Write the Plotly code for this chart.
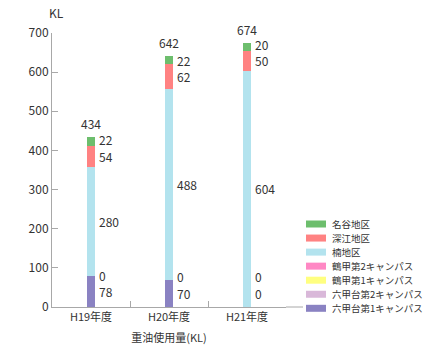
import plotly.graph_objects as go

# ---- data ----
categories = ["H19年度", "H20年度", "H21年度"]
series_names = ["六甲台第1キャンパス", "六甲台第2キャンパス", "鶴甲第1キャンパス",
                "鶴甲第2キャンパス", "楠地区", "深江地区", "名谷地区"]
series_colors = ["#8A82C2", "#D9B8D9", "#FFFF80", "#FF88C4", "#B3E3EE", "#FF8282", "#6DBE6D"]
rokko1 = [78, 70, 0]
rokko2 = [0, 0, 0]
tsuru1 = [0, 0, 0]
tsuru2 = [0, 0, 0]
kusunoki = [280, 488, 604]
fukae = [54, 62, 50]
myodani = [22, 22, 20]
series_values = [rokko1, rokko2, tsuru1, tsuru2, kusunoki, fukae, myodani]
totals = [434, 642, 674]
y_ticks = [0, 100, 200, 300, 400, 500, 600, 700]

FONT = "Noto Sans CJK JP, Noto Sans, sans-serif"
TXT = "#333333"
AX = "#a8a8a8"

fig = go.Figure()
for name, color, vals in zip(series_names, series_colors, series_values):
    fig.add_trace(go.Bar(x=categories, y=vals, name=name, marker_color=color,
                         marker_line_width=0, width=0.115, showlegend=False))

# ---- value labels at right of each bar (with simple overlap avoidance) ----
GAP = 42
FLOOR = 35
for ci, cat in enumerate(categories):
    base = 0
    labels = []
    for si, vals in enumerate(series_values):
        v = vals[ci]
        mid = base + v / 2
        if si >= 2 and labels and labels[-1][2] >= 1 and labels[-1][0] == str(v) and labels[-1][1] == mid:
            base += v
            continue
        labels.append([str(v), mid, si])
        base += v
    prev = None
    for text, mid, si in labels:
        y = max(mid, FLOOR) if prev is None else max(mid, prev + GAP)
        prev = y
        fig.add_annotation(x=cat, y=y, text=text, showarrow=False, xanchor="left",
                           yanchor="middle", xshift=6,
                           font=dict(family=FONT, size=12, color=TXT))
    fig.add_annotation(x=cat, y=totals[ci], text=str(totals[ci]), showarrow=False,
                       xanchor="center", yanchor="bottom", yshift=3,
                       font=dict(family=FONT, size=12, color=TXT))

# ---- custom legend (wide swatches) ----
PX0, PX1, PY0, PY1 = 52, 286, 33, 307
def px_x(p):
    return (p - PX0) / (PX1 - PX0)
def px_y(p):
    return (PY1 - p) / (PY1 - PY0)

row0, step = 224, 14.05
for i, (name, color) in enumerate(zip(series_names[::-1], series_colors[::-1])):
    yc = row0 + i * step
    fig.add_shape(type="rect", xref="paper", yref="paper",
                  x0=px_x(306), x1=px_x(326), y0=px_y(yc + 3.5), y1=px_y(yc - 3.5),
                  fillcolor=color, line_width=0)
    fig.add_annotation(xref="paper", yref="paper", x=px_x(330), y=px_y(yc), text=name,
                       showarrow=False, xanchor="left", yanchor="middle",
                       font=dict(family=FONT, size=9.5, color=TXT))

# axis line extension to the right
fig.add_shape(type="line", xref="paper", yref="paper", x0=1, x1=px_x(303), y0=0, y1=0,
              line=dict(color=AX, width=1))

# unit label
fig.add_annotation(xref="paper", yref="paper", x=0, y=1, xshift=-5, yshift=10,
                   text="KL", showarrow=False, xanchor="left", yanchor="bottom",
                   font=dict(family=FONT, size=12, color=TXT))

fig.update_layout(
    barmode="stack",
    width=427, height=350,
    margin=dict(l=PX0, r=427 - PX1, t=PY0, b=350 - PY1, autoexpand=False),
    paper_bgcolor="white", plot_bgcolor="white",
    font=dict(family=FONT, size=12, color=TXT),
    showlegend=False,
)
fig.update_xaxes(type="category", showline=True, linecolor=AX, linewidth=1,
                 ticks="inside", tickson="boundaries", ticklen=6, tickcolor=AX,
                 showgrid=False, tickfont=dict(size=11, color=TXT, family=FONT),
                 title=dict(text="重油使用量(KL)", font=dict(size=11, color=TXT, family=FONT),
                            standoff=11))
fig.update_yaxes(range=[0, 700], tickvals=y_ticks, showline=True, linecolor=AX, linewidth=1,
                 ticks="inside", ticklen=6, tickcolor=AX, showgrid=False, zeroline=False,
                 tickfont=dict(size=12, color=TXT, family=FONT))

fig.write_html("out.html")
